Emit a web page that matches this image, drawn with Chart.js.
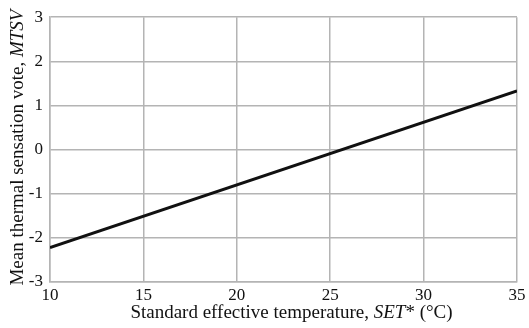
<!DOCTYPE html>
<html>
<head>
<meta charset="utf-8">
<script src="https://cdn.jsdelivr.net/npm/chart.js@4"></script>
<style>
  html, body { margin: 0; padding: 0; background: #ffffff; }
  #wrap { width: 529px; height: 328px; }
</style>
</head>
<body>
<div id="wrap"><canvas id="chart"></canvas></div>
<script>
// line endpoints
const set_temp = [10, 35]
const mtsv = [-2.22, 1.33]
const x_ticks = [10, 15, 20, 25, 30, 35]
const y_ticks = [-3, -2, -1, 0, 1, 2, 3]

// axis titles, split in [text, italic] runs
const x_title = [['Standard effective temperature, ', false], ['SET', true], ['* (°C)', false]]
const y_title = [['Mean thermal sensation vote, ', false], ['MTSV', true]]

let points = []
set_temp.forEach((t, i) => points.push({x: t, y: mtsv[i]}))

const family = '"Liberation Serif", "DejaVu Serif", serif'
const tick_font = { family: family, size: 17 }
const title_size = 19
const grid_color = '#b4b4b4'
const text_color = '#111111'

// draws a title made of plain and italic runs, centred on (cx, cy)
function draw_runs(ctx, runs, cx, cy, angle) {
    ctx.save()
    ctx.translate(cx, cy)
    ctx.rotate(angle)
    ctx.fillStyle = text_color
    ctx.textBaseline = 'middle'
    ctx.textAlign = 'left'
    let total = 0
    runs.forEach(r => {
        ctx.font = (r[1] ? 'italic ' : '') + title_size + 'px ' + family
        total += ctx.measureText(r[0]).width
    })
    let x = -total / 2
    runs.forEach(r => {
        ctx.font = (r[1] ? 'italic ' : '') + title_size + 'px ' + family
        ctx.fillText(r[0], x, 0)
        x += ctx.measureText(r[0]).width
    })
    ctx.restore()
}

const axis_titles = {
    id: 'axis_titles',
    afterDraw(chart) {
        const area = chart.chartArea
        const ctx = chart.ctx
        draw_runs(ctx, x_title, (area.left + area.right) / 2 + 8, 313, 0)
        draw_runs(ctx, y_title, 18, (area.top + area.bottom) / 2 - 2, -Math.PI / 2)
    }
}

new Chart(document.getElementById('chart'), {
    type: 'scatter',
    data: {
        datasets: [{
            data: points,
            showLine: true,
            borderColor: '#111111',
            borderWidth: 3,
            pointRadius: 0,
            fill: false
        }]
    },
    options: {
        responsive: true,
        maintainAspectRatio: false,
        animation: false,
        layout: { padding: { top: 15, right: 12, left: 0, bottom: 0 } },
        scales: {
            x: {
                type: 'linear',
                min: 10,
                max: 35,
                afterBuildTicks: axis => { axis.ticks = x_ticks.map(v => ({value: v})) },
                afterFit: axis => { axis.height = 46 },
                grid: { color: grid_color, lineWidth: 1.5, drawTicks: false },
                border: { color: grid_color, width: 1.5 },
                ticks: { color: text_color, font: tick_font, padding: 3, maxRotation: 0 }
            },
            y: {
                min: -3,
                max: 3,
                afterBuildTicks: axis => { axis.ticks = y_ticks.map(v => ({value: v})) },
                afterFit: axis => { axis.width = 50 },
                grid: { color: grid_color, lineWidth: 1.5, drawTicks: false },
                border: { color: grid_color, width: 1.5 },
                ticks: { color: text_color, font: tick_font, padding: 7 }
            }
        },
        plugins: {
            legend: { display: false },
            tooltip: { enabled: false }
        }
    },
    plugins: [axis_titles]
})
</script>
</body>
</html>
